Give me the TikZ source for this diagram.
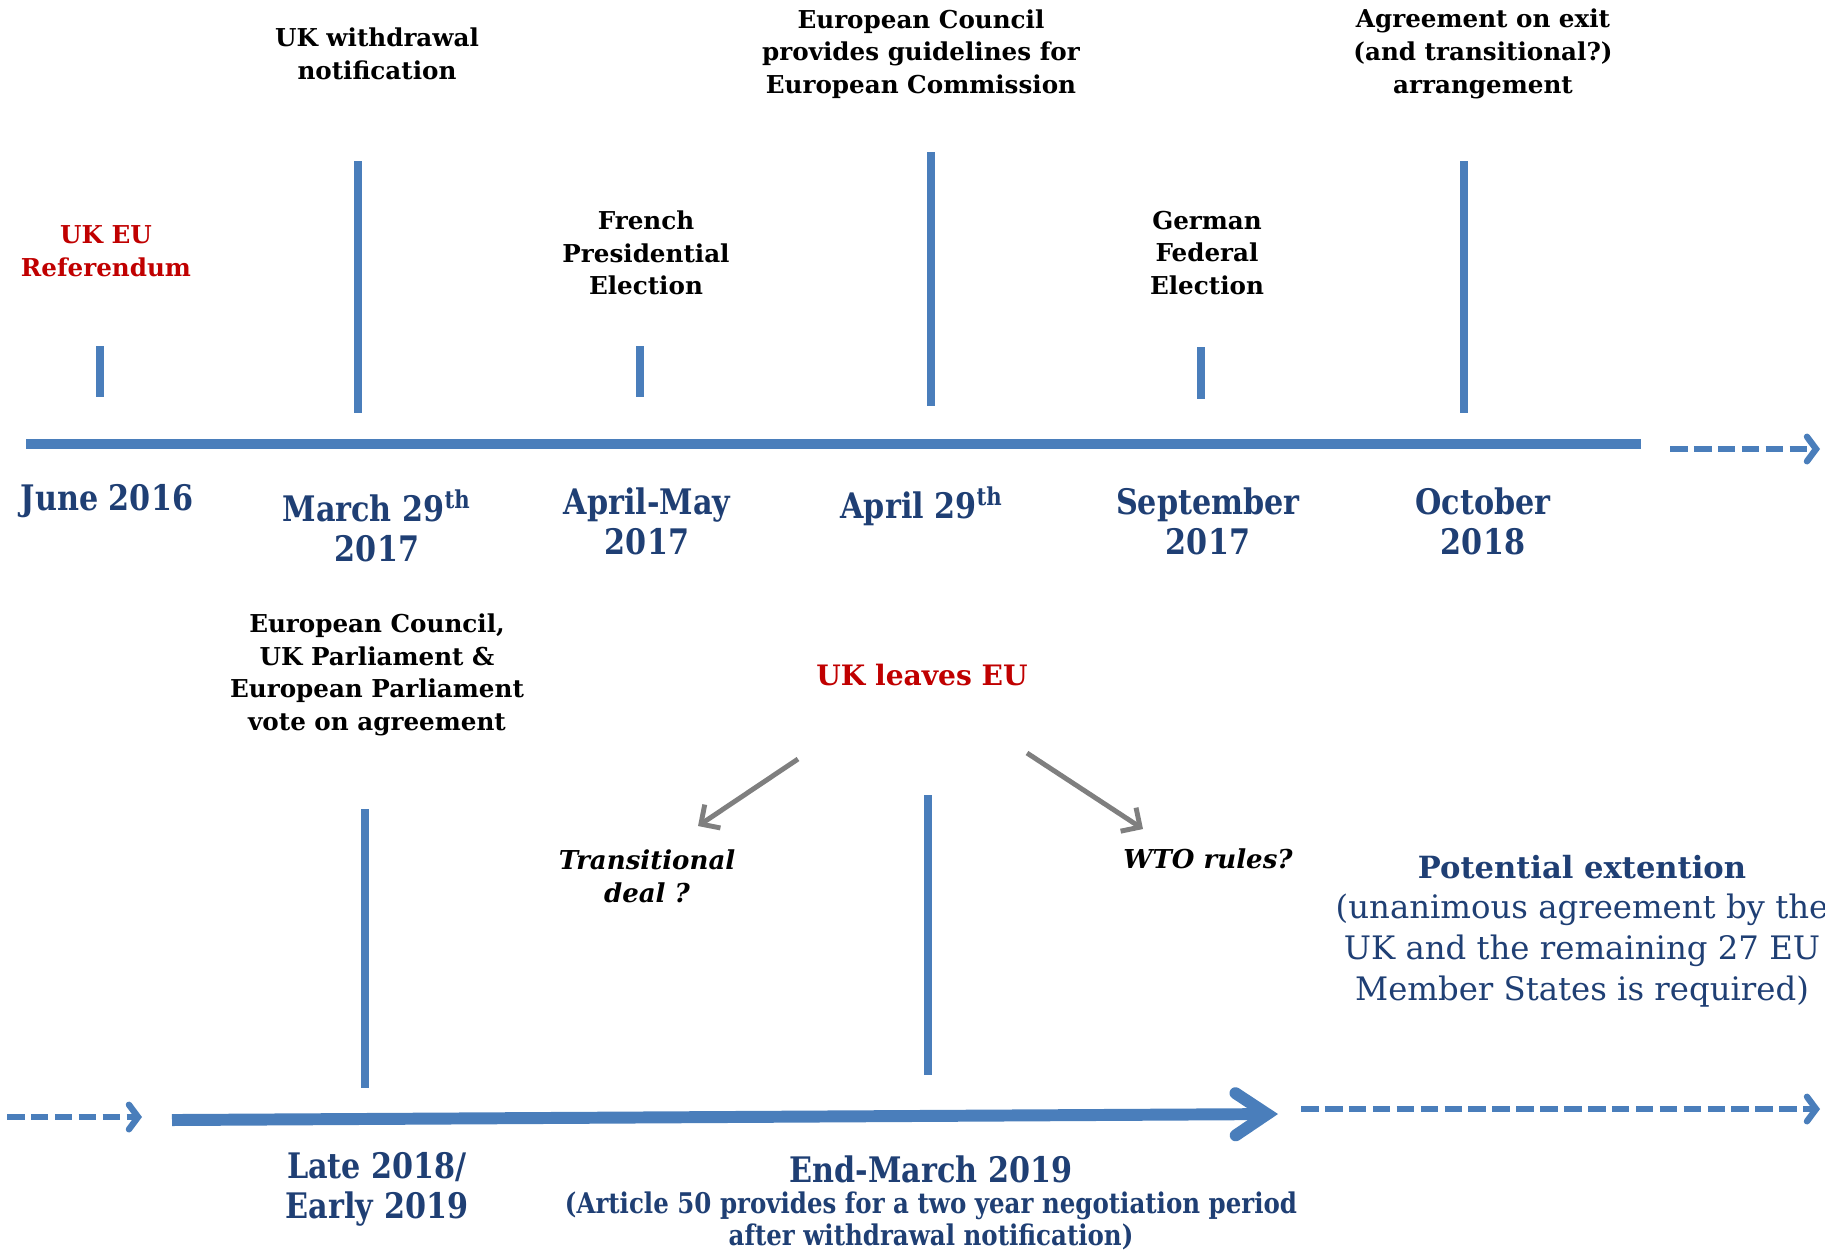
\documentclass[tikz,border=0pt]{standalone}
\usepackage{fontspec}
\setmainfont{DejaVu Serif}
\newfontfamily\datefont[FakeStretch=0.86]{DejaVu Serif}
\usetikzlibrary{arrows.meta}
\definecolor{lineblue}{HTML}{4A7EBB}
\definecolor{dateblue}{HTML}{1F3F74}
\definecolor{eured}{HTML}{C00000}
\definecolor{arrowgray}{HTML}{7F7F7F}

\begin{document}
\begin{tikzpicture}[x=0.01cm,y=-0.01cm]
\tikzset{
  event/.style={align=center,font=\fontsize{7}{9.3}\selectfont\bfseries},
  eventred/.style={event,text=eured},
  option/.style={align=center,font=\fontsize{7.4}{9.3}\selectfont\bfseries\itshape},
  datelabel/.style={align=center,text=dateblue,font=\fontsize{10}{11.4}\selectfont\datefont\bfseries},
  note/.style={align=center,text=dateblue,font=\fontsize{8.1}{9.3}\selectfont\datefont\bfseries},
  extension/.style={align=center,text=dateblue,font=\fontsize{9.2}{11.6}\selectfont},
  tick/.style={draw=lineblue,line width=2.3pt},
  timeline/.style={draw=lineblue,line width=2.6pt},
  dashedarrow/.style={draw=lineblue,line width=1.8pt,dash pattern=on 5pt off 1.8pt,
    -{Straight Barb[length=2.6pt,width=7pt,line cap=round]}},
  bigarrow/.style={draw=lineblue,line width=3.4pt,
    -{Straight Barb[length=9pt,width=12pt,line cap=round]}},
  grayarrow/.style={draw=arrowgray,line width=1.4pt,
    -{Straight Barb[length=4pt,width=8pt]}}
}
\useasboundingbox (0,0) rectangle (1825,1250);

% upper timeline
\coordinate (top start) at (26,444);
\coordinate (top end) at (1641,444);
\coordinate (top dash start) at (1670,449);
\coordinate (top dash end) at (1820,449);
\draw[timeline] (top start) -- (top end);
\draw[dashedarrow] (top dash start) -- (top dash end);
\foreach \x/\ya/\yb in {100/346/397, 358/161/413, 640/346/397, 931/152/406, 1201/347/399, 1464/161/413}
  \draw[tick] (\x,\ya) -- (\x,\yb);

\node[eventred] (referendum) at (106,251) {UK EU\\Referendum};
\node[event] (notification) at (377,54) {UK withdrawal\\notification};
\node[event] (french) at (646,253) {French\\Presidential\\Election};
\node[event] (guidelines) at (921,54) {European Council\\provides guidelines for\\European Commission};
\node[event] (german) at (1207,253) {German\\Federal\\Election};
\node[event] (exit) at (1483,54) {Agreement on exit\\(and transitional?)\\arrangement};

\node[datelabel] (june) at (107,501) {June 2016};
\node[datelabel] (march) at (377,526) {March 29\textsuperscript{th}\\2017};
\node[datelabel] (aprilmay) at (647,521) {April-May\\2017};
\node[datelabel] (april) at (922,506) {April 29\textsuperscript{th}};
\node[datelabel] (september) at (1208,521) {September\\2017};
\node[datelabel] (october) at (1483,521) {October\\2018};

% lower timeline
\coordinate (low dash start) at (7,1117);
\coordinate (low dash end) at (142,1117);
\coordinate (low start) at (172,1120);
\coordinate (low end) at (1278,1114);
\coordinate (ext dash start) at (1301,1109);
\coordinate (ext dash end) at (1820,1109);
\draw[dashedarrow] (low dash start) -- (low dash end);
\draw[bigarrow] (low start) -- (low end);
\draw[dashedarrow] (ext dash start) -- (ext dash end);
\foreach \x/\ya/\yb in {365/809/1088, 928/795/1075}
  \draw[tick] (\x,\ya) -- (\x,\yb);

\node[event] (vote) at (377,675) {European Council,\\UK Parliament \&\\European Parliament\\vote on agreement};
\node[eventred,font=\fontsize{8}{9.3}\selectfont\bfseries] (leaves) at (922,675) {UK leaves EU};
\node[option] (transitional) at (647,876) {Transitional\\deal ?};
\node[option] (wto) at (1208,859) {WTO rules?};

\coordinate (to deal from) at (798,759);
\coordinate (to deal) at (698,826);
\coordinate (to wto from) at (1027,753);
\coordinate (to wto) at (1143,829);
\draw[grayarrow] (to deal from) -- (to deal);
\draw[grayarrow] (to wto from) -- (to wto);

\node[extension] (potential) at (1582,931) {{\fontsize{8.7}{11.6}\selectfont\bfseries Potential extention}\\(unanimous agreement by the\\UK and the remaining 27 EU\\Member States is required)};

\node[datelabel] (late) at (377,1189) {Late 2018/\\Early 2019};
\node[datelabel] (endmarch) at (931,1169) {End-March 2019};
\node[note] (article) at (931,1221) {(Article 50 provides for a two year negotiation period\\after withdrawal notification)};
\end{tikzpicture}
\end{document}
